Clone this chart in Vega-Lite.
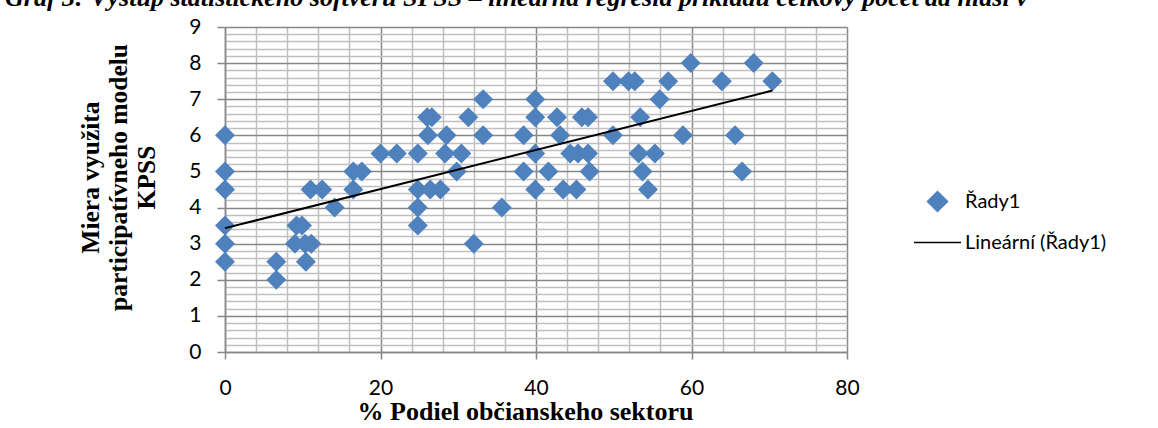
{
  "$schema": "https://vega.github.io/schema/vega-lite/v6.json",
  "width": 622,
  "height": 325,
  "autosize": {"type": "none"},
  "padding": {"left": 225, "top": 27, "right": 311, "bottom": 76},
  "background": "white",
  "title": {
    "text": "Graf 3: Výstup štatistického softvéru SPSS – lineárna regresia príkladu celkový počet ad hlasí v",
    "anchor": "start",
    "frame": "group",
    "orient": "top",
    "offset": 13,
    "dy": 29,
    "baseline": "alphabetic",
    "dx": -220,
    "font": "Liberation Serif",
    "fontSize": 26,
    "fontWeight": "bold",
    "fontStyle": "italic",
    "color": "black"
  },
  "datasets": {
    "points": [
      {"x": 0, "y": 6}, {"x": 0, "y": 5}, {"x": 0, "y": 4.5}, {"x": 0, "y": 3.5}, {"x": 0, "y": 3}, {"x": 0, "y": 2.5},
      {"x": 6.6, "y": 2.5}, {"x": 6.6, "y": 2}, {"x": 9.2, "y": 3.5}, {"x": 9.9, "y": 3.5}, {"x": 9.0, "y": 3},
      {"x": 10.3, "y": 3}, {"x": 11.1, "y": 3}, {"x": 10.4, "y": 2.5}, {"x": 11, "y": 4.5}, {"x": 12.5, "y": 4.5},
      {"x": 14.1, "y": 4}, {"x": 16.5, "y": 5}, {"x": 17.6, "y": 5}, {"x": 16.5, "y": 4.5}, {"x": 20, "y": 5.5},
      {"x": 22.1, "y": 5.5}, {"x": 24.8, "y": 5.5}, {"x": 24.8, "y": 4.5}, {"x": 24.8, "y": 4}, {"x": 24.8, "y": 3.5},
      {"x": 26.4, "y": 4.5}, {"x": 27.7, "y": 4.5}, {"x": 26.0, "y": 6.5}, {"x": 26.6, "y": 6.5}, {"x": 26.1, "y": 6},
      {"x": 28.5, "y": 6}, {"x": 28.3, "y": 5.5}, {"x": 30.4, "y": 5.5}, {"x": 29.8, "y": 5}, {"x": 31.3, "y": 6.5},
      {"x": 33.2, "y": 7}, {"x": 33.2, "y": 6}, {"x": 32.0, "y": 3}, {"x": 35.6, "y": 4}, {"x": 38.4, "y": 6},
      {"x": 38.4, "y": 5}, {"x": 39.9, "y": 7}, {"x": 39.9, "y": 6.5}, {"x": 39.9, "y": 5.5}, {"x": 39.9, "y": 4.5},
      {"x": 41.6, "y": 5}, {"x": 42.7, "y": 6.5}, {"x": 43.1, "y": 6}, {"x": 43.5, "y": 4.5}, {"x": 44.4, "y": 5.5},
      {"x": 45.4, "y": 5.5}, {"x": 45.2, "y": 4.5}, {"x": 45.9, "y": 6.5}, {"x": 46.7, "y": 6.5}, {"x": 46.7, "y": 5.5},
      {"x": 46.9, "y": 5}, {"x": 49.9, "y": 7.5}, {"x": 49.9, "y": 6}, {"x": 51.9, "y": 7.5}, {"x": 52.7, "y": 7.5},
      {"x": 53.4, "y": 6.5}, {"x": 53.2, "y": 5.5}, {"x": 53.7, "y": 5}, {"x": 54.4, "y": 4.5}, {"x": 55.3, "y": 5.5},
      {"x": 55.9, "y": 7}, {"x": 57.0, "y": 7.5}, {"x": 58.9, "y": 6}, {"x": 59.9, "y": 8}, {"x": 63.9, "y": 7.5},
      {"x": 65.6, "y": 6}, {"x": 66.5, "y": 5}, {"x": 68.0, "y": 8}, {"x": 70.4, "y": 7.5}
    ],
    "trend": [
      {"x": 0, "y": 3.43},
      {"x": 70.4, "y": 7.24}
    ]
  },
  "layer": [
    {
      "data": {"name": "points"},
      "transform": [{"calculate": "'Řady1'", "as": "series"}],
      "mark": {"type": "point", "filled": true, "size": 2209, "opacity": 1},
      "encoding": {
        "x": {"field": "x", "type": "quantitative"},
        "y": {"field": "y", "type": "quantitative"},
        "color": {"field": "series", "type": "nominal"},
        "shape": {"field": "series", "type": "nominal"}
      }
    },
    {
      "data": {"name": "trend"},
      "transform": [{"calculate": "'Lineární (Řady1)'", "as": "series"}],
      "mark": {"type": "line", "strokeWidth": 2},
      "encoding": {
        "x": {"field": "x", "type": "quantitative"},
        "y": {"field": "y", "type": "quantitative"},
        "color": {"field": "series", "type": "nominal"}
      }
    }
  ],
  "encoding": {
    "x": {
      "field": "x",
      "type": "quantitative",
      "scale": {"domain": [0, 80], "nice": false, "zero": false},
      "axis": {
        "title": "% Podiel občianskeho sektoru",
        "values": [0, 4, 8, 12, 16, 20, 24, 28, 32, 36, 40, 44, 48, 52, 56, 60, 64, 68, 72, 76, 80],
        "labelExpr": "datum.value % 20 === 0 ? format(datum.value, 'd') : ''",
        "grid": true,
        "gridColor": {"condition": {"test": "datum.value % 20 === 0", "value": "#878787"}, "value": "#BFBFBF"},
        "gridWidth": 1.5,
        "tickOpacity": {"condition": {"test": "datum.value % 20 === 0", "value": 1}, "value": 0},
        "tickSize": 7,
        "tickColor": "#878787",
        "tickWidth": 1.5,
        "domainColor": "#878787",
        "domainWidth": 1.5,
        "labelFont": "Lato",
        "labelFontSize": 21,
        "labelColor": "black",
        "labelPadding": 18,
        "labelFlush": false,
        "labelOverlap": false,
        "titleFont": "Liberation Serif",
        "titleFontSize": 26,
        "titleFontWeight": "bold",
        "titleColor": "black",
        "titlePadding": 0,
        "titleX": 300
      }
    },
    "y": {
      "field": "y",
      "type": "quantitative",
      "scale": {"domain": [0, 9], "nice": false, "zero": false},
      "axis": {
        "title": ["Miera využita", "participatívneho modelu", "KPSS"],
        "values": [0, 0.2, 0.4, 0.6, 0.8, 1, 1.2, 1.4, 1.6, 1.8, 2, 2.2, 2.4, 2.6, 2.8, 3, 3.2, 3.4, 3.6, 3.8, 4, 4.2, 4.4, 4.6, 4.8, 5, 5.2, 5.4, 5.6, 5.8, 6, 6.2, 6.4, 6.6, 6.8, 7, 7.2, 7.4, 7.6, 7.8, 8, 8.2, 8.4, 8.6, 8.8, 9],
        "labelExpr": "datum.value % 1 === 0 ? format(datum.value, 'd') : ''",
        "grid": true,
        "gridColor": {"condition": {"test": "datum.value % 1 === 0", "value": "#878787"}, "value": "#BFBFBF"},
        "gridWidth": 1.5,
        "tickOpacity": {"condition": {"test": "datum.value % 1 === 0", "value": 1}, "value": 0},
        "tickSize": 8,
        "tickColor": "#878787",
        "tickWidth": 1.5,
        "domainColor": "#878787",
        "domainWidth": 1.5,
        "labelFont": "Lato",
        "labelFontSize": 21,
        "labelColor": "black",
        "labelPadding": 16,
        "labelFlush": false,
        "labelOverlap": false,
        "titleFont": "Liberation Serif",
        "titleFontSize": 25.5,
        "titleFontWeight": "bold",
        "titleColor": "black",
        "titleAngle": -90,
        "titleAlign": "center",
        "titleBaseline": "middle",
        "titleLineHeight": 28,
        "titleX": -135,
        "titleY": 150
      }
    },
    "color": {
      "field": "series",
      "type": "nominal",
      "scale": {"domain": ["Řady1", "Lineární (Řady1)"], "range": ["#4F81BD", "black"]},
      "legend": {
        "title": null,
        "orient": "none",
        "legendX": 688,
        "legendY": 150,
        "padding": 0,
        "labelFont": "Lato",
        "labelFontSize": 20,
        "labelColor": "black",
        "rowPadding": 3,
        "symbolSize": 2209,
        "labelOffset": 3,
        "encode": {
          "symbols": {
            "update": {
              "stroke": {"scale": "color", "field": "value"},
              "strokeWidth": {"value": 1.5}
            }
          }
        }
      }
    },
    "shape": {
      "field": "series",
      "type": "nominal",
      "scale": {"domain": ["Řady1", "Lineární (Řady1)"], "range": ["M0,-0.425L0.425,0L0,0.425L-0.425,0Z", "M-1,0H1"]},
      "legend": {
        "title": null,
        "orient": "none",
        "legendX": 688,
        "legendY": 150,
        "padding": 0,
        "labelFont": "Lato",
        "labelFontSize": 20,
        "labelColor": "black",
        "rowPadding": 3,
        "symbolSize": 2209,
        "labelOffset": 3
      }
    }
  },
  "config": {
    "view": {"stroke": null}
  }
}
